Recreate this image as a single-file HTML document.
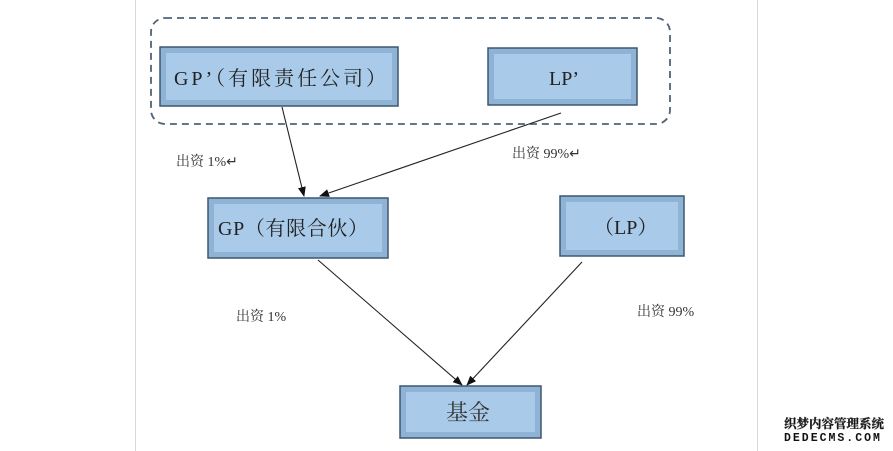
<!DOCTYPE html>
<html><head><meta charset="utf-8"><style>
html,body{margin:0;padding:0;background:#fff;}
svg{display:block;}
text{font-family:"Liberation Serif","Noto Serif CJK SC",serif;}
</style></head><body>
<svg width="893" height="451" viewBox="0 0 893 451" xmlns="http://www.w3.org/2000/svg">
<defs>
<marker id="ah" markerWidth="10" markerHeight="8" refX="9" refY="4" orient="auto" markerUnits="userSpaceOnUse">
<path d="M0,0 L10,4 L0,8 Z" fill="#111"/></marker>
</defs>
<line x1="135.5" y1="0" x2="135.5" y2="451" stroke="#d8d8d8"/>
<line x1="757.5" y1="0" x2="757.5" y2="451" stroke="#d8d8d8"/>
<rect x="151" y="18" width="519" height="106" rx="14" fill="none" stroke="#4f6478" stroke-width="1.8" stroke-dasharray="7,5"/>

<g stroke="#3d5670" stroke-width="1.5">
<rect x="160" y="47" width="238" height="59" fill="#8fb3d4"/>
<rect x="166" y="53" width="226" height="47" fill="#a9cbe9" stroke="none"/>
<rect x="488" y="48" width="149" height="57" fill="#8fb3d4"/>
<rect x="494" y="54" width="137" height="45" fill="#a9cbe9" stroke="none"/>
<rect x="208" y="198" width="180" height="60" fill="#8fb3d4"/>
<rect x="214" y="204" width="168" height="48" fill="#a9cbe9" stroke="none"/>
<rect x="560" y="196" width="124" height="60" fill="#8fb3d4"/>
<rect x="566" y="202" width="112" height="48" fill="#a9cbe9" stroke="none"/>
<rect x="400" y="386" width="141" height="52" fill="#8fb3d4"/>
<rect x="406" y="392" width="129" height="40" fill="#a9cbe9" stroke="none"/>
</g>

<g fill="#222" font-size="20">
<text x="174" y="85" textLength="212" lengthAdjust="spacing">GP’（有限责任公司）</text>
<text x="549" y="85">LP’</text>
<text x="218" y="235" textLength="150" lengthAdjust="spacing">GP（有限合伙）</text>
<text x="594" y="234">（LP）</text>
<text x="446" y="420" font-size="22" fill="#333">基金</text>
</g>

<g stroke="#222" stroke-width="1.1" marker-end="url(#ah)">
<line x1="282" y1="107" x2="304" y2="196"/>
<line x1="561" y1="113" x2="320" y2="196"/>
<line x1="318" y1="260" x2="462" y2="385"/>
<line x1="582" y1="262" x2="467" y2="385"/>
</g>

<g fill="#333" font-size="14">
<text x="176" y="166">出资 1%↵</text>
<text x="512" y="158">出资 99%↵</text>
<text x="236" y="321">出资 1%</text>
<text x="637" y="316">出资 99%</text>
</g>
<g font-family="'Noto Sans CJK SC',sans-serif" font-weight="bold">
<text x="784" y="428" font-size="12.5" fill="#111" stroke="#444" stroke-width="0.4">织梦内容管理系统</text>
<text x="784" y="441" font-size="11.5" fill="#111" letter-spacing="2" style="font-family:'Liberation Mono',monospace">DEDECMS.COM</text>
</g>
</svg>
</body></html>
